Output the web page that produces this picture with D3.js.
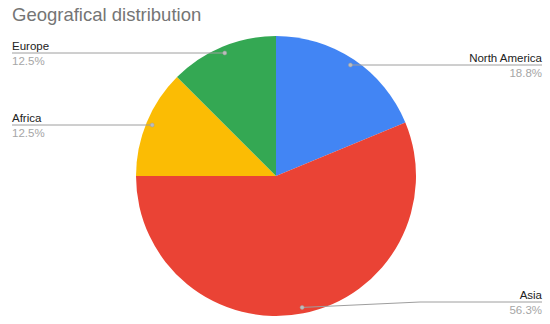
<!DOCTYPE html>
<html><head><meta charset="utf-8">
<script src="https://cdn.jsdelivr.net/npm/d3@7"></script>
<style>body{margin:0;background:#fff}svg{display:block;font-family:Arial,"Liberation Sans",sans-serif}</style>
</head><body>
<svg id="c" width="550" height="324"></svg>
<script>
const categories = ["North America", "Asia", "Africa", "Europe"];
const values = [3, 9, 2, 2];
const percentLabels = ["18.8%", "56.3%", "12.5%", "12.5%"];
const colors = ["#4285F4", "#EA4335", "#FBBC04", "#34A853"];

const svg = d3.select("#c");
const W = 550, H = 324;
const cx = 276, cy = 176, r = 140;

svg.append("rect").attr("width", W).attr("height", H).attr("fill", "#fff");
svg.append("text").attr("x", 12).attr("y", 21).attr("font-size", 18.5).attr("fill", "#757575")
  .text("Geografical distribution");

const pie = d3.pie().sort(null).value(d => d)(values);
const arc = d3.arc().innerRadius(0).outerRadius(r);
const g = svg.append("g").attr("transform", `translate(${cx},${cy})`);
g.selectAll("path").data(pie).join("path").attr("d", arc).attr("fill", (d, i) => colors[i]);

const dotArc = d3.arc().innerRadius(134).outerRadius(134);
const layout = [
  {side: "right", ly: 65},
  {side: "right", ly: 302, bend: 420},
  {side: "left", ly: 125},
  {side: "left", ly: 53}
];
pie.forEach((d, i) => {
  const [px, py] = dotArc.centroid(d);
  const dx = cx + px, dy = cy + py;
  const L = layout[i];
  const ex = L.side === "right" ? 542 : 12;
  let pts;
  if (L.bend) pts = [[dx, dy], [L.bend, L.ly], [ex, L.ly]];
  else pts = [[dx, L.ly], [ex, L.ly]];
  svg.append("path").attr("d", d3.line()(pts)).attr("fill", "none")
    .attr("stroke", "#9e9e9e").attr("stroke-width", 1);
  svg.append("circle").attr("cx", dx).attr("cy", L.bend ? dy : L.ly).attr("r", 2)
    .attr("fill", "#bdbdbd").attr("stroke", "#9e9e9e").attr("stroke-width", 0.5);
  const anchor = L.side === "right" ? "end" : "start";
  svg.append("text").attr("x", ex).attr("y", L.ly - 3).attr("text-anchor", anchor)
    .attr("font-size", 11.5).attr("fill", "#222").text(categories[i]);
  svg.append("text").attr("x", ex).attr("y", L.ly + 12).attr("text-anchor", anchor)
    .attr("font-size", 11.5).attr("fill", "#a6a6a6").text(percentLabels[i]);
});
</script>
</body></html>
